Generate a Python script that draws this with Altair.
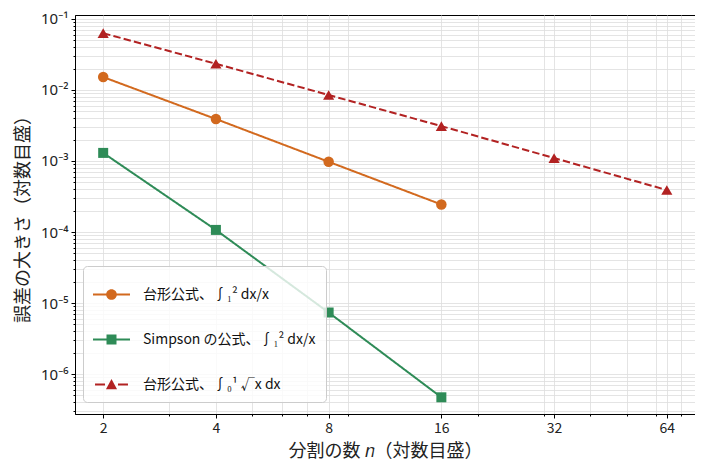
import altair as alt
import pandas as pd

# series (legend order)
series = ["台形公式、∫₁² dx/x", "Simpson の公式、∫₁² dx/x", "台形公式、∫₀¹ √x dx"]
colors = ["#d2691e", "#2e8b57", "#b22222"]
shapes = ["circle", "square", "triangle-up"]
marker_sizes = [110, 100, 125]
dashes = [[1, 0], [1, 0], [7.4, 3.2]]

n_trap_ln = [2, 4, 8, 16]
err_trap_ln = [1.52e-2, 3.90e-3, 9.75e-4, 2.44e-4]
n_simpson = [2, 4, 8, 16]
err_simpson = [1.30e-3, 1.07e-4, 7.35e-6, 4.7e-7]
n_trap_sqrt = [2, 4, 8, 16, 32, 64]
err_trap_sqrt = [6.31e-2, 2.34e-2, 8.5e-3, 3.1e-3, 1.1e-3, 3.9e-4]

x_major = [2, 4, 8, 16, 32, 64]
x_minor = [3, 5, 6, 7, 9, 20, 30, 40, 50, 60, 70]
y_major = [1e-6, 1e-5, 1e-4, 1e-3, 1e-2, 1e-1]
y_major_labels = ["10⁻⁶", "10⁻⁵", "10⁻⁴", "10⁻³", "10⁻²", "10⁻¹"]

x_domain = [2 / 2 ** 0.25, 64 * 2 ** 0.25]
y_domain = [10 ** -6.563, 10 ** -0.944]
y_minor = [float(f"{m}e{k}") for k in range(-7, -1) for m in range(2, 10)]
y_minor = [v for v in y_minor if y_domain[0] <= v <= y_domain[1]]

FONT = "Noto Sans CJK JP"

rows = []
for name, ns, errs in [(series[0], n_trap_ln, err_trap_ln),
                       (series[1], n_simpson, err_simpson),
                       (series[2], n_trap_sqrt, err_trap_sqrt)]:
    for n, e in zip(ns, errs):
        rows.append({"series": name, "n": n, "err": e})
df = pd.DataFrame(rows)

x_test = f"indexof({x_major}, datum.value) >= 0"
y_major_js = "[" + ",".join(repr(v) for v in y_major) + "]"
y_labels_js = "[" + ",".join(f"'{s}'" for s in y_major_labels) + "]"
y_test = f"indexof({y_major_js}, datum.value) >= 0"

x_enc = alt.X("n:Q", title="分割の数 𝑛（対数目盛）",
              scale=alt.Scale(type="log", domain=x_domain, nice=False),
              axis=alt.Axis(values=sorted(x_major + x_minor),
                            labelExpr=f"{x_test} ? datum.value + '' : ''",
                            tickSize={"condition": {"test": x_test, "value": 4}, "value": 2},
                            labelOverlap=False, labelPadding=3, titlePadding=7))
y_enc = alt.Y("err:Q", title="誤差の大きさ（対数目盛）",
              scale=alt.Scale(type="log", domain=y_domain, nice=False),
              axis=alt.Axis(values=sorted(y_major + y_minor),
                            labelExpr=f"{y_labels_js}[indexof({y_major_js}, datum.value)] || ''",
                            tickSize={"condition": {"test": y_test, "value": 4}, "value": 2},
                            labelFont="Noto Sans", labelFontSize=15,
                            labelOverlap=False, labelPadding=3, titlePadding=8))

base = alt.Chart(df)

# legend symbols: line + marker drawn as custom paths
LW = "0.054"
legend_paths = [
    f"M-1,-{LW}H1V{LW}H-1Z M0.29,0A0.29,0.29 0 1,1 -0.29,0A0.29,0.29 0 1,1 0.29,0Z",
    f"M-1,-{LW}H1V{LW}H-1Z M-0.27,-0.27H0.27V0.27H-0.27Z",
    f"M-0.89,-{LW}H-0.35V{LW}H-0.89Z M0.35,-{LW}H0.89V{LW}H0.35Z M0,-0.3L0.3,0.25L-0.3,0.25Z",
]
legend_opts = dict(
    title=None, orient="none", legendX=8, legendY=251,
    fillColor="rgba(255,255,255,0.8)", strokeColor="#cccccc", cornerRadius=4,
    padding=10, rowPadding=19, symbolSize=1369, symbolStrokeWidth=0, symbolOpacity=1,
    labelFont=FONT, labelFontSize=14, labelColor="#111", labelOffset=13, labelLimit=400,
)
legend_layer = base.mark_point(filled=True, opacity=1, size=0).encode(
    x=x_enc, y=y_enc,
    color=alt.Color("series:N", scale=alt.Scale(domain=series, range=colors),
                    legend=alt.Legend(**legend_opts)),
    shape=alt.Shape("series:N", scale=alt.Scale(domain=series, range=legend_paths),
                    legend=alt.Legend(**legend_opts)),
)

layers = [legend_layer]
for name, col, dash in zip(series, colors, dashes):
    layers.append(
        base.mark_line(strokeWidth=2, color=col, strokeDash=dash).encode(
            x="n:Q", y="err:Q"
        ).transform_filter(alt.datum.series == name)
    )
for name, col, shp, sz in zip(series, colors, shapes, marker_sizes):
    layers.append(
        base.mark_point(filled=True, size=sz, opacity=1, shape=shp, color=col).encode(
            x="n:Q", y="err:Q"
        ).transform_filter(alt.datum.series == name)
    )

chart = alt.layer(*layers).properties(
    width=620, height=399, padding={"left": 6, "top": 3, "right": 0, "bottom": 5}
).configure_view(
    stroke="black", strokeWidth=1
).configure_axis(
    labelFont=FONT, labelFontSize=14, labelColor="#222",
    titleFont=FONT, titleFontSize=18, titleFontWeight="normal", titleColor="#222",
    domainColor="black", tickColor="black",
    gridColor="#dddddd", gridWidth=0.8,
)

chart.save("out.html", embed_options={"renderer": "svg", "actions": False})
